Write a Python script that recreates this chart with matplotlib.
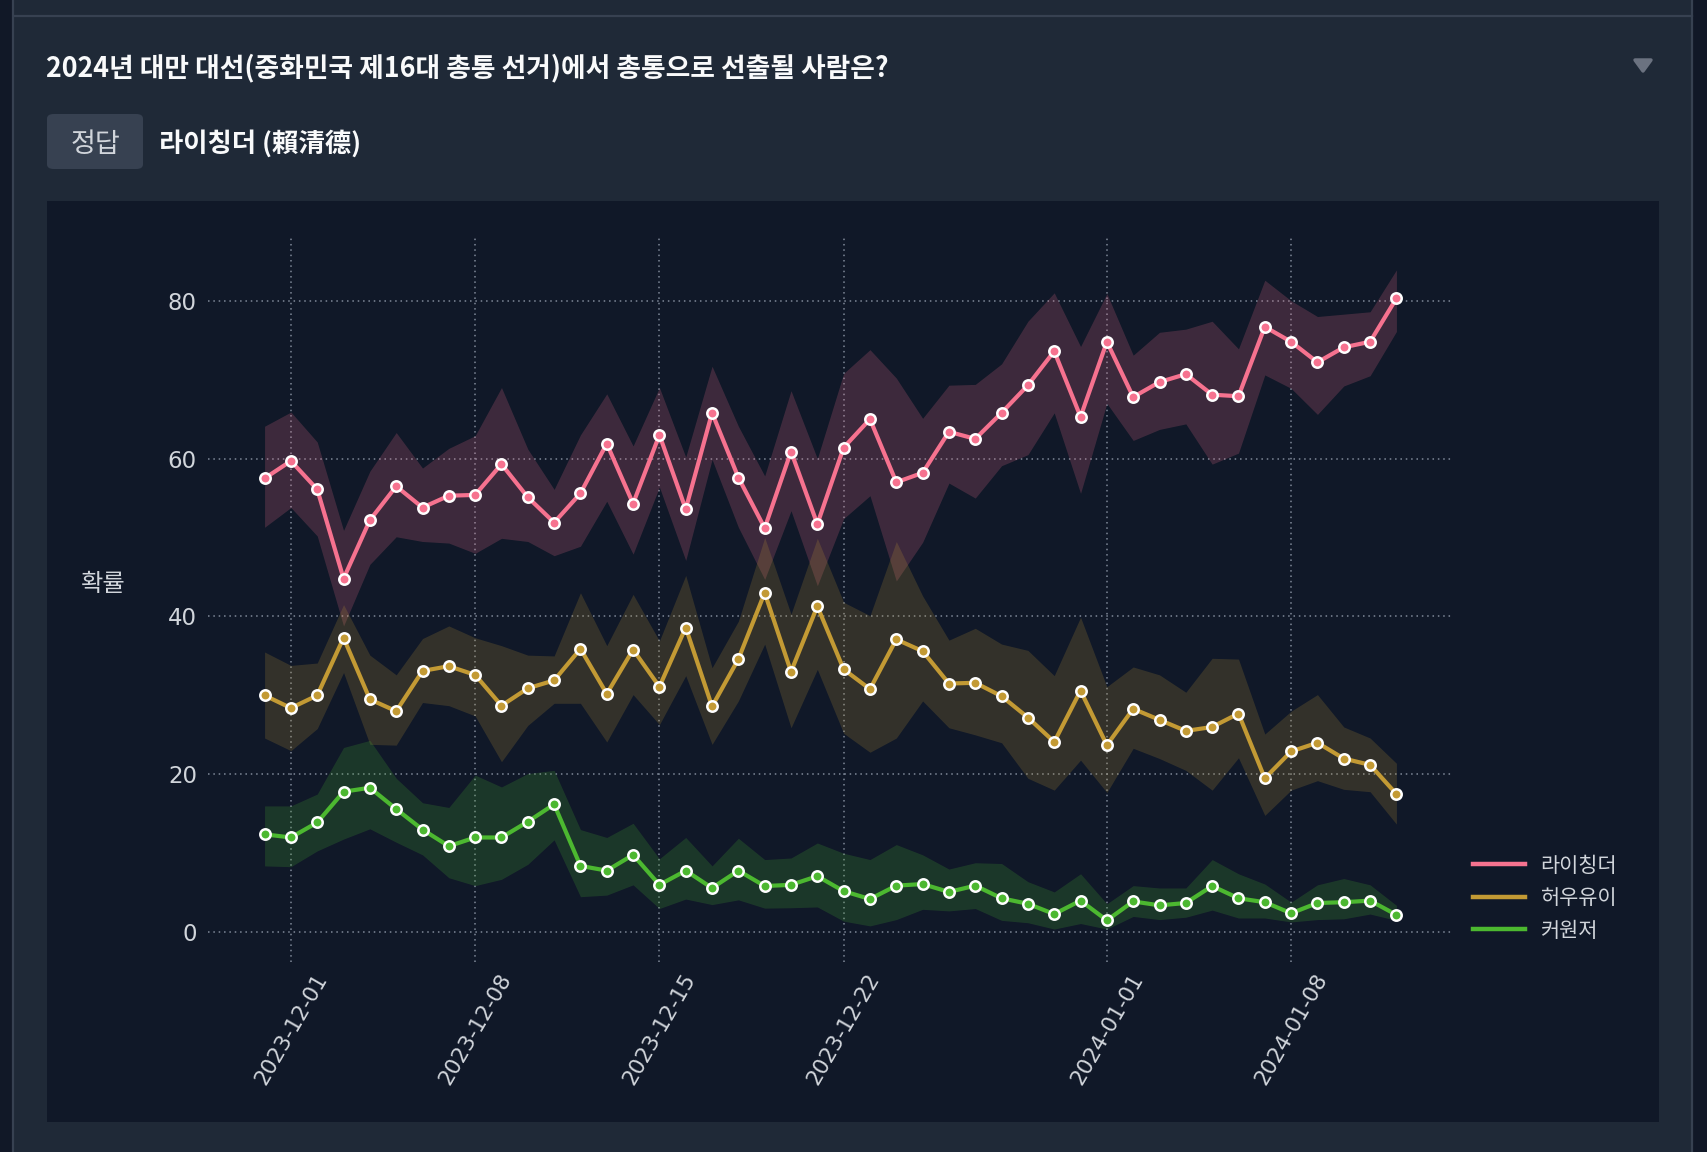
import matplotlib.pyplot as plt
from matplotlib.patches import Rectangle, FancyBboxPatch, Polygon
from matplotlib.lines import Line2D
import matplotlib.dates as mdates
import pandas as pd

plt.rcParams['font.family'] = ['Noto Sans CJK KR', 'DejaVu Sans']

# data
dates = pd.date_range('2023-11-30', '2024-01-12', freq='D')
names = ['라이칭더', '허우유이', '커원저']

lai = [57.5, 59.7, 56.1, 44.8, 52.2, 56.5, 53.8, 55.3, 55.4, 59.3,
       55.1, 51.9, 55.6, 61.9, 54.3, 63.0, 53.6, 65.8, 57.6, 51.2,
       60.9, 51.7, 61.4, 65.0, 57.0, 58.2, 63.4, 62.5, 65.8, 69.3,
       73.6, 65.3, 74.8, 67.8, 69.7, 70.7, 68.1, 67.9, 76.7, 74.8,
       72.2, 74.1, 74.8, 80.3]
lai_hi = [64.1, 65.9, 62.1, 50.9, 58.4, 63.3, 58.8, 61.3, 62.9, 69.0,
          61.2, 56.1, 63.0, 68.2, 61.6, 69.0, 60.2, 71.7, 64.1, 57.8,
          68.6, 60.0, 70.8, 73.8, 70.2, 65.1, 69.3, 69.4, 72.0, 77.4,
          81.0, 74.2, 80.9, 73.1, 76.0, 76.4, 77.4, 73.9, 82.6, 80.0,
          78.0, 78.3, 78.6, 83.9]
lai_lo = [51.3, 53.8, 50.2, 38.8, 46.6, 50.1, 49.5, 49.3, 48.0, 49.9,
          49.5, 47.7, 48.9, 54.6, 47.9, 56.4, 47.1, 59.9, 51.3, 44.7,
          53.4, 43.9, 52.4, 55.3, 44.5, 49.4, 56.9, 55.0, 59.1, 60.5,
          65.8, 55.6, 67.0, 62.3, 63.7, 64.4, 59.3, 60.7, 70.6, 68.9,
          65.6, 69.2, 70.5, 76.1]

hou = [30.0, 28.4, 30.0, 37.3, 29.5, 28.0, 33.1, 33.7, 32.6, 28.7,
       30.9, 31.9, 35.9, 30.2, 35.8, 31.1, 38.6, 28.6, 34.6, 43.0,
       33.0, 41.3, 33.3, 30.8, 37.1, 35.6, 31.5, 31.6, 29.9, 27.2,
       24.1, 30.6, 23.7, 28.3, 26.9, 25.5, 26.0, 27.7, 19.5, 22.9,
       24.0, 22.0, 21.2, 17.5]
hou_hi = [35.5, 33.8, 34.1, 41.5, 35.1, 32.6, 37.2, 38.8, 37.3, 36.3,
          35.1, 35.0, 43.0, 36.3, 42.8, 36.9, 45.2, 33.5, 39.4, 50.0,
          40.3, 49.9, 41.8, 40.1, 49.5, 42.6, 37.0, 38.5, 36.5, 35.7,
          32.5, 39.9, 31.1, 33.6, 32.6, 30.4, 34.7, 34.6, 25.1, 28.0,
          30.1, 26.0, 24.6, 21.4]
hou_lo = [24.6, 23.0, 25.8, 32.9, 23.8, 23.7, 29.1, 28.7, 27.4, 21.6,
          26.2, 29.0, 29.0, 24.1, 30.1, 26.3, 32.5, 23.8, 29.3, 36.5,
          25.9, 33.3, 25.2, 22.8, 24.6, 29.3, 25.9, 25.0, 24.0, 19.5,
          18.0, 21.8, 17.7, 23.3, 22.0, 20.5, 18.0, 22.1, 14.8, 18.0,
          19.2, 18.1, 17.8, 13.7]

ko = [12.4, 12.0, 13.9, 17.8, 18.3, 15.6, 13.0, 10.9, 12.0, 12.0,
      14.0, 16.2, 8.4, 7.8, 9.8, 6.0, 7.8, 5.6, 7.8, 5.85,
      6.0, 7.1, 5.2, 4.2, 5.9, 6.1, 5.1, 5.9, 4.3, 3.6,
      2.3, 4.0, 1.5, 3.9, 3.4, 3.7, 5.85, 4.3, 3.8, 2.4,
      3.7, 3.8, 4.0, 2.2]
ko_hi = [16.0, 16.0, 17.5, 23.4, 24.3, 19.5, 16.4, 15.8, 19.9, 18.4,
         20.1, 20.5, 13.0, 12.0, 13.8, 9.3, 12.0, 8.4, 11.9, 9.2,
         9.4, 11.3, 10.0, 9.2, 11.1, 9.8, 8.0, 8.8, 8.7, 6.4,
         5.1, 7.4, 3.6, 5.9, 5.6, 5.6, 9.2, 7.4, 6.1, 3.8,
         6.0, 6.8, 6.0, 3.4]
ko_lo = [8.4, 8.3, 10.3, 11.8, 13.1, 11.4, 9.8, 6.9, 5.9, 6.7,
         8.6, 11.7, 4.5, 4.7, 6.0, 3.0, 4.2, 3.5, 4.1, 3.05,
         3.1, 3.2, 1.4, 0.8, 1.6, 2.9, 2.7, 3.0, 1.5, 1.2,
         0.4, 1.1, 0.4, 2.0, 1.6, 1.9, 2.8, 1.8, 1.8, 1.3,
         1.6, 1.7, 2.3, 1.5]

tick_dates = ['2023-12-01', '2023-12-08', '2023-12-15', '2023-12-22',
              '2024-01-01', '2024-01-08']

colors = ['#f6728f', '#c39a34', '#4cb830']
page_bg = '#111827'
card_bg = '#1f2937'
chart_bg = '#101828'
border = '#374151'

W, H = 1708, 1152
fig = plt.figure(figsize=(W / 100, H / 100), dpi=100, facecolor=page_bg)


def px(x, y):
    # pixel (from top-left) -> figure fraction
    return x / W, 1 - y / H


# card, its borders, chart panel
x0, y0 = px(14, 1152)
fig.add_artist(Rectangle((x0, y0), (1692 - 14) / W, 1, transform=fig.transFigure,
                         facecolor=card_bg, edgecolor='none', zorder=0))
for xs, ys in [([13.5, 13.5], [0, 1152]), ([1692.5, 1692.5], [0, 1152]),
               ([14, 1692], [16, 16])]:
    fig.add_artist(Line2D([x / W for x in xs], [1 - y / H for y in ys],
                          transform=fig.transFigure, color=border, lw=1.6))
x0, y0 = px(47, 1122)
fig.add_artist(Rectangle((x0, y0), (1659 - 47) / W, (1122 - 201) / H,
                         transform=fig.transFigure, facecolor=chart_bg,
                         edgecolor='none', zorder=0))

# header texts
fig.text(*px(46, 68), '2024년 대만 대선(중화민국 제16대 총통 선거)에서 총통으로 선출될 사람은?',
         color='#f9fafb', fontsize=19.3, fontweight='bold', va='center', ha='left')
bx, by = px(47, 169)
fig.add_artist(FancyBboxPatch((bx, by), 96 / W, 55 / H, transform=fig.transFigure,
                              boxstyle='round,pad=0,rounding_size=0.004',
                              facecolor=border, edgecolor='none'))
fig.text(*px(95, 144), '정답', color='#d1d5db', fontsize=19.5, va='center', ha='center')
fig.text(*px(159, 144), '라이칭더 (賴清德)', color='#f9fafb', fontsize=19,
         fontweight='bold', va='center', ha='left')
tri = [px(1635, 60), px(1651, 60), px(1643, 71)]
fig.add_artist(Polygon(tri, closed=True, transform=fig.transFigure,
                       facecolor='#6b7280', edgecolor='#6b7280', lw=2.5,
                       joinstyle='round'))

# chart
ax = fig.add_axes([208 / W, 1 - 962 / H, (1453 - 208) / W, (962 - 237) / H])
ax.set_facecolor(chart_bg)

series = [(lai, lai_lo, lai_hi), (hou, hou_lo, hou_hi), (ko, ko_lo, ko_hi)]
for (vals, lo, hi), c in zip(series, colors):
    ax.fill_between(dates, lo, hi, color=c, alpha=0.2, lw=0, zorder=1)
for (vals, lo, hi), name, c in zip(series, names, colors):
    ax.plot(dates, vals, color=c, lw=3, marker='o', ms=7.5,
            markerfacecolor=c, markeredgecolor='white', markeredgewidth=1.8,
            label=name, zorder=3)

ax.set_xticks(pd.to_datetime(tick_dates))
ax.xaxis.set_major_formatter(mdates.DateFormatter('%Y-%m-%d'))
ax.set_yticks([0, 20, 40, 60, 80])
ax.tick_params(length=0, colors='#d1d5db', labelsize=15.5)
ax.tick_params(axis='y', pad=8, labelsize=16.5)
ax.tick_params(axis='x', pad=6)
for lab in ax.get_xticklabels():
    lab.set_rotation(60)
    lab.set_family(['DejaVu Sans'])
for lab in ax.get_yticklabels():
    lab.set_family(['DejaVu Sans'])

ax.grid(True, linestyle=(0, (1, 2.5)), color='#8b95a5', lw=1.1, alpha=0.9)
ax.set_axisbelow(True)
for s in ax.spines.values():
    s.set_visible(False)

ax.set_ylabel('확률', rotation=0, color='#d1d5db', fontsize=17.5, va='center', ha='center')
ax.yaxis.set_label_coords((103 - 208) / 1245, (962 - 584) / 725)

leg = ax.legend(loc='upper left', bbox_to_anchor=(1.016, 0.148), frameon=False,
                borderpad=0, borderaxespad=0, handlelength=2.5, handletextpad=0.75,
                labelspacing=0.5, fontsize=15)
for t in leg.get_texts():
    t.set_color('#d1d5db')
for h in leg.legend_handles:
    h.set_marker('')
    h.set_linewidth(3.2)

fig.savefig('out.png', dpi=100, facecolor=page_bg)
